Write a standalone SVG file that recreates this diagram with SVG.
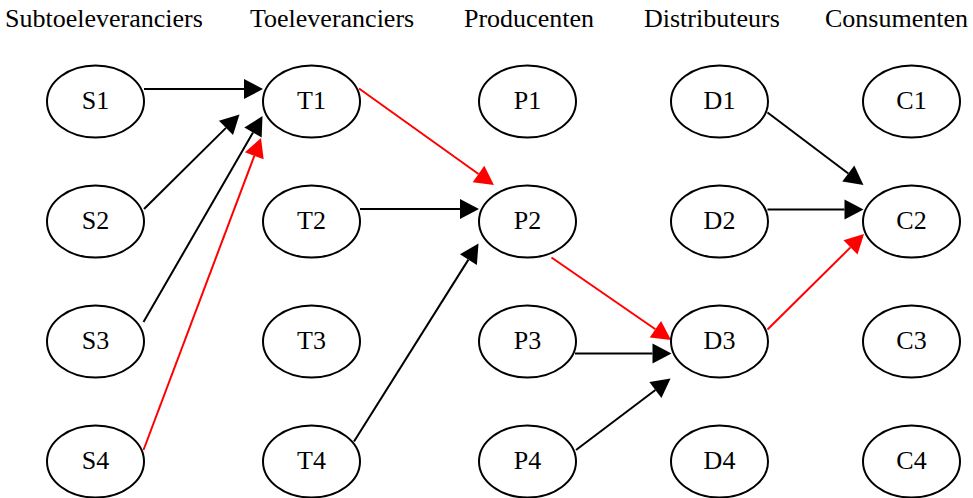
<svg xmlns="http://www.w3.org/2000/svg" width="973" height="498" viewBox="0 0 973 498">
<style>
.n ellipse{fill:#fff;stroke:#000;stroke-width:2}
text{font-family:'Liberation Serif','Times New Roman',serif;font-size:26px;fill:#000}
.n text{text-anchor:middle}
.e line{stroke:#000;stroke-width:2;fill:none;marker-end:url(#ab)}
.e line.r{stroke:#f00;marker-end:url(#ar)}
</style>
<defs>
<marker id="ab" markerUnits="userSpaceOnUse" markerWidth="20" markerHeight="22" refX="0" refY="10" orient="auto" overflow="visible"><path d="M0,0 L19,10 L0,20 z" fill="#000"/></marker>
<marker id="ar" markerUnits="userSpaceOnUse" markerWidth="20" markerHeight="22" refX="0" refY="10" orient="auto" overflow="visible"><path d="M0,0 L19,10 L0,20 z" fill="#f00"/></marker>
</defs>
<rect width="973" height="498" fill="#fff"/>
<g id="headers">
<text x="5" y="26.5">Subtoeleveranciers</text>
<text x="250" y="26.5">Toeleveranciers</text>
<text x="464" y="26.5">Producenten</text>
<text x="644" y="26.5">Distributeurs</text>
<text x="825" y="26.5">Consumenten</text>
</g>
<g id="connectors" class="e">
<line x1="144" y1="89" x2="244" y2="89"/>
<line x1="144" y1="209" x2="226" y2="127.9"/>
<line x1="143.5" y1="322" x2="253" y2="132.5"/>
<line class="r" x1="143.5" y1="450" x2="254.3" y2="155.8"/>
<line class="r" x1="359" y1="88.5" x2="478.5" y2="174"/>
<line x1="360" y1="209" x2="460" y2="209"/>
<line x1="354" y1="441.5" x2="468.4" y2="259.6"/>
<line class="r" x1="551.5" y1="257.5" x2="655.4" y2="329.2"/>
<line x1="575" y1="353.5" x2="652.5" y2="353.5"/>
<line x1="576" y1="450" x2="655.4" y2="390"/>
<line x1="767.5" y1="112.5" x2="848.3" y2="173.5"/>
<line x1="767.5" y1="209.5" x2="844.5" y2="209.5"/>
<line class="r" x1="767.5" y1="329.5" x2="850.5" y2="247.4"/>
</g>
<g id="S1" class="n"><ellipse cx="95.5" cy="101.5" rx="48.5" ry="36"/><text x="95.5" y="108.5">S1</text></g>
<g id="S2" class="n"><ellipse cx="95.5" cy="221.5" rx="48.5" ry="36"/><text x="95.5" y="228.5">S2</text></g>
<g id="S3" class="n"><ellipse cx="95.5" cy="341.5" rx="48.5" ry="36"/><text x="95.5" y="348.5">S3</text></g>
<g id="S4" class="n"><ellipse cx="95.5" cy="461.5" rx="48.5" ry="36"/><text x="95.5" y="468.5">S4</text></g>
<g id="T1" class="n"><ellipse cx="311.5" cy="101.5" rx="48.5" ry="36"/><text x="311.5" y="108.5">T1</text></g>
<g id="T2" class="n"><ellipse cx="311.5" cy="221.5" rx="48.5" ry="36"/><text x="311.5" y="228.5">T2</text></g>
<g id="T3" class="n"><ellipse cx="311.5" cy="341.5" rx="48.5" ry="36"/><text x="311.5" y="348.5">T3</text></g>
<g id="T4" class="n"><ellipse cx="311.5" cy="461.5" rx="48.5" ry="36"/><text x="311.5" y="468.5">T4</text></g>
<g id="P1" class="n"><ellipse cx="527.5" cy="101.5" rx="48.5" ry="36"/><text x="527.5" y="108.5">P1</text></g>
<g id="P2" class="n"><ellipse cx="527.5" cy="221.5" rx="48.5" ry="36"/><text x="527.5" y="228.5">P2</text></g>
<g id="P3" class="n"><ellipse cx="527.5" cy="341.5" rx="48.5" ry="36"/><text x="527.5" y="348.5">P3</text></g>
<g id="P4" class="n"><ellipse cx="527.5" cy="461.5" rx="48.5" ry="36"/><text x="527.5" y="468.5">P4</text></g>
<g id="D1" class="n"><ellipse cx="719.5" cy="101.5" rx="48.5" ry="36"/><text x="719.5" y="108.5">D1</text></g>
<g id="D2" class="n"><ellipse cx="719.5" cy="221.5" rx="48.5" ry="36"/><text x="719.5" y="228.5">D2</text></g>
<g id="D3" class="n"><ellipse cx="719.5" cy="341.5" rx="48.5" ry="36"/><text x="719.5" y="348.5">D3</text></g>
<g id="D4" class="n"><ellipse cx="719.5" cy="461.5" rx="48.5" ry="36"/><text x="719.5" y="468.5">D4</text></g>
<g id="C1" class="n"><ellipse cx="911.5" cy="101.5" rx="48.5" ry="36"/><text x="911.5" y="108.5">C1</text></g>
<g id="C2" class="n"><ellipse cx="911.5" cy="221.5" rx="48.5" ry="36"/><text x="911.5" y="228.5">C2</text></g>
<g id="C3" class="n"><ellipse cx="911.5" cy="341.5" rx="48.5" ry="36"/><text x="911.5" y="348.5">C3</text></g>
<g id="C4" class="n"><ellipse cx="911.5" cy="461.5" rx="48.5" ry="36"/><text x="911.5" y="468.5">C4</text></g>
</svg>
